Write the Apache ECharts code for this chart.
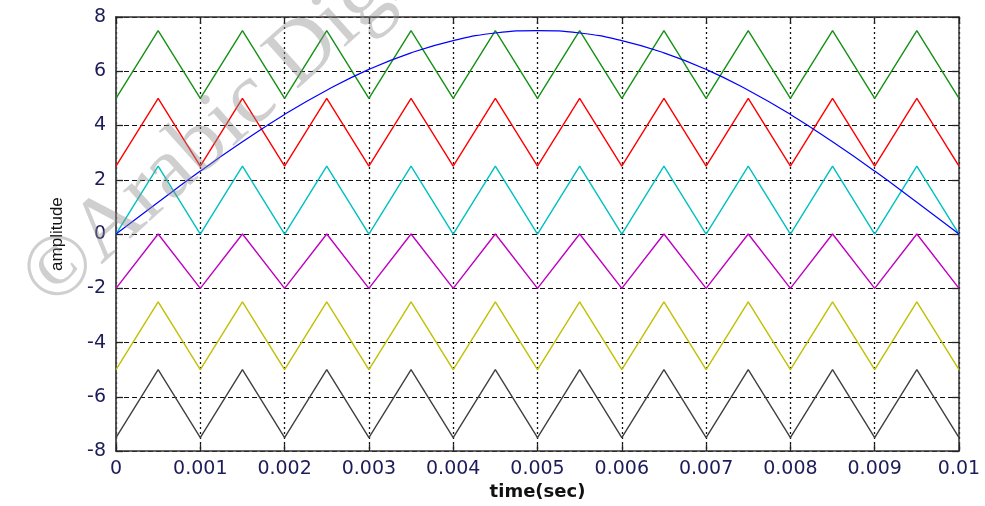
<!DOCTYPE html>
<html>
<head>
<meta charset="utf-8">
<title>amplitude vs time</title>
<script src="https://cdn.jsdelivr.net/npm/echarts@6/dist/echarts.min.js"></script>
<style>
  html, body { margin: 0; padding: 0; background: #ffffff; }
  #chart { width: 985px; height: 506px; }
</style>
</head>
<body>
<div id="chart"></div>
<script>
// sample instants (s): triangle vertices every half period
const times = [0, 0.0005, 0.001, 0.0015, 0.002, 0.0025, 0.003, 0.0035, 0.004, 0.0045, 0.005,
               0.0055, 0.006, 0.0065, 0.007, 0.0075, 0.008, 0.0085, 0.009, 0.0095, 0.01];

// triangle carriers (low / high alternating)
const greenWave   = [5, 7.5, 5, 7.5, 5, 7.5, 5, 7.5, 5, 7.5, 5, 7.5, 5, 7.5, 5, 7.5, 5, 7.5, 5, 7.5, 5];
const redWave     = [2.5, 5, 2.5, 5, 2.5, 5, 2.5, 5, 2.5, 5, 2.5, 5, 2.5, 5, 2.5, 5, 2.5, 5, 2.5, 5, 2.5];
const cyanWave    = [0, 2.5, 0, 2.5, 0, 2.5, 0, 2.5, 0, 2.5, 0, 2.5, 0, 2.5, 0, 2.5, 0, 2.5, 0, 2.5, 0];
const magentaWave = [-2, 0, -2, 0, -2, 0, -2, 0, -2, 0, -2, 0, -2, 0, -2, 0, -2, 0, -2, 0, -2];
const yellowWave  = [-5, -2.5, -5, -2.5, -5, -2.5, -5, -2.5, -5, -2.5, -5, -2.5, -5, -2.5, -5, -2.5, -5, -2.5, -5, -2.5, -5];
const grayWave    = [-7.5, -5, -7.5, -5, -7.5, -5, -7.5, -5, -7.5, -5, -7.5, -5, -7.5, -5, -7.5, -5, -7.5, -5, -7.5, -5, -7.5];

// reference (message) signal
const blueSignal  = [0, 1.17, 2.32, 3.40, 4.41, 5.30, 6.07, 6.68, 7.13, 7.41, 7.5,
                     7.41, 7.13, 6.68, 6.07, 5.30, 4.41, 3.40, 2.32, 1.17, 0];

const xTickLabels = ['0', '0.001', '0.002', '0.003', '0.004', '0.005', '0.006', '0.007', '0.008', '0.009', '0.01'];
const yTickLabels = ['-8', '-6', '-4', '-2', '0', '2', '4', '6', '8'];

const pairs = (ys) => times.map((t, i) => [t, ys[i]]);

const traces = [
  { name: 'green',   data: greenWave,   color: '#159115' },
  { name: 'red',     data: redWave,     color: '#ff0000' },
  { name: 'cyan',    data: cyanWave,    color: '#00c0c0' },
  { name: 'magenta', data: magentaWave, color: '#c000c0' },
  { name: 'yellow',  data: yellowWave,  color: '#c0c000' },
  { name: 'gray',    data: grayWave,    color: '#404040' }
];

const labelColor = '#1c1c5a';
const labelFont = '"DejaVu Sans", Verdana, sans-serif';

const chart = echarts.init(document.getElementById('chart'), null, { renderer: 'canvas' });

const series = traces.map(tr => ({
  name: tr.name,
  type: 'line',
  data: pairs(tr.data),
  showSymbol: false,
  lineStyle: { color: tr.color, width: 1.4 },
  z: 3
}));
series.push({
  name: 'signal',
  type: 'line',
  data: pairs(blueSignal),
  smooth: true,
  showSymbol: false,
  lineStyle: { color: '#0000ff', width: 1.2 },
  z: 4
});

const xIdx = (v) => Math.round(v * 1000);

// box edges: mirrored axes with inward ticks and no labels
const boxLine = { show: true, onZero: false, lineStyle: { color: '#333', width: 1.5 } };
const boxTick = { show: true, inside: true, length: 7, lineStyle: { color: '#222', width: 1.3 } };

chart.setOption({
  animation: false,
  backgroundColor: '#ffffff',
  grid: { left: 116, right: 26, top: 17, bottom: 49, containLabel: false },
  xAxis: [
    {
      type: 'value', min: 0, max: 0.01, interval: 0.001,
      name: 'time(sec)', nameLocation: 'middle', nameGap: 31,
      nameTextStyle: { color: '#111', fontSize: 18, fontWeight: 'bold', fontFamily: labelFont },
      axisLine: boxLine,
      axisTick: boxTick,
      axisLabel: {
        color: labelColor, fontSize: 19, fontFamily: labelFont, margin: 8,
        formatter: (v) => xTickLabels[xIdx(v)] ?? ''
      },
      splitLine: { show: true, lineStyle: { color: '#111', width: 1.3, type: [2, 3] } }
    },
    {
      type: 'value', min: 0, max: 0.01, interval: 0.001, position: 'top',
      axisLine: boxLine,
      axisTick: boxTick,
      axisLabel: { show: false },
      splitLine: { show: false }
    }
  ],
  yAxis: [
    {
      type: 'value', min: -8, max: 8, interval: 2,
      name: 'amplitude', nameLocation: 'middle', nameGap: 50, nameRotate: 90,
      nameTextStyle: { color: '#111', fontSize: 17, fontFamily: '"Liberation Sans Narrow", "Arial Narrow", "Liberation Sans", sans-serif' },
      axisLine: { show: true, onZero: false, lineStyle: { color: '#444', width: 1.8 } },
      axisTick: boxTick,
      axisLabel: {
        color: labelColor, fontSize: 19, fontFamily: labelFont, margin: 10,
        formatter: (v) => yTickLabels[Math.round((v + 8) / 2)] ?? ''
      },
      splitLine: { show: true, lineStyle: { color: '#111', width: 1.2, type: [5, 3] } }
    },
    {
      type: 'value', min: -8, max: 8, interval: 2, position: 'right',
      axisLine: boxLine,
      axisTick: boxTick,
      axisLabel: { show: false },
      splitLine: { show: false }
    }
  ],
  graphic: [
    {
      type: 'text',
      x: 36, y: 292,
      rotation: 0.73,
      z: 10,
      silent: true,
      style: {
        text: '©Arabic Digital',
        font: '88px "Liberation Serif", "Times New Roman", serif',
        fill: 'rgba(140,140,140,0.42)',
        textAlign: 'left',
        textVerticalAlign: 'middle'
      }
    }
  ],
  series: series
});
</script>
</body>
</html>
